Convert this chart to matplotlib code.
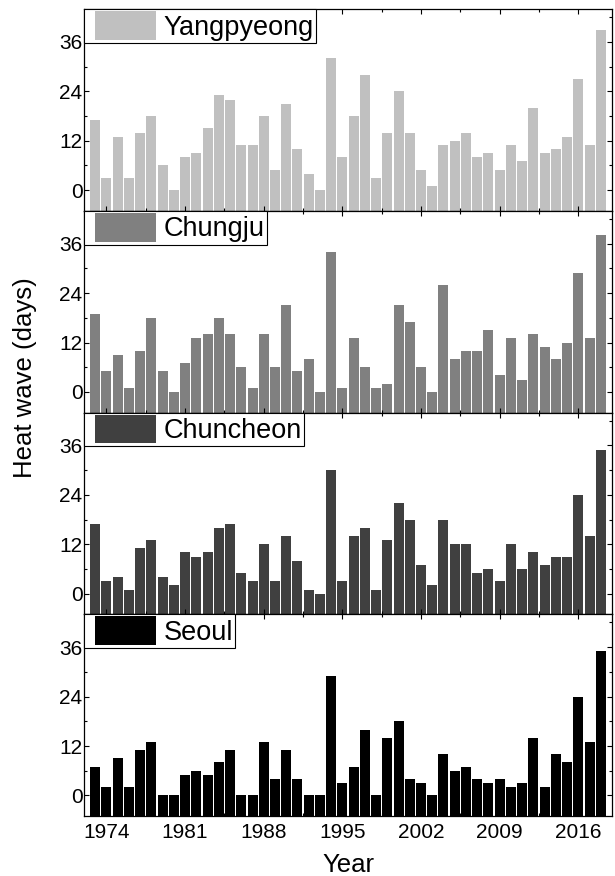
import numpy as np
from matplotlib import pyplot as plt
from matplotlib.container import BarContainer
from matplotlib.patches import Rectangle
from matplotlib.legend_handler import HandlerPatch, update_from_first_child
from matplotlib.ticker import MultipleLocator

years = np.arange(1973, 2019)

stations = ["Yangpyeong", "Chungju", "Chuncheon", "Seoul"]

yangpyeong = [17, 3, 13, 3, 14, 18, 6, 0, 8, 9,
              15, 23, 22, 11, 11, 18, 5, 21, 10, 4,
              0, 32, 8, 18, 28, 3, 14, 24, 14, 5,
              1, 11, 12, 14, 8, 9, 5, 11, 7, 20,
              9, 10, 13, 27, 11, 39]
chungju = [19, 5, 9, 1, 10, 18, 5, 0, 7, 13,
           14, 18, 14, 6, 1, 14, 6, 21, 5, 8,
           0, 34, 1, 13, 6, 1, 2, 21, 17, 6,
           0, 26, 8, 10, 10, 15, 4, 13, 3, 14,
           11, 8, 12, 29, 13, 38]
chuncheon = [17, 3, 4, 1, 11, 13, 4, 2, 10, 9,
             10, 16, 17, 5, 3, 12, 3, 14, 8, 1,
             0, 30, 3, 14, 16, 1, 13, 22, 18, 7,
             2, 18, 12, 12, 5, 6, 3, 12, 6, 10,
             7, 9, 9, 24, 14, 35]
seoul = [7, 2, 9, 2, 11, 13, 0, 0, 5, 6,
         5, 8, 11, 0, 0, 13, 4, 11, 4, 0,
         0, 29, 3, 7, 16, 0, 14, 18, 4, 3,
         0, 10, 6, 7, 4, 3, 4, 2, 3, 14,
         2, 10, 8, 24, 13, 35]

series = [yangpyeong, chungju, chuncheon, seoul]
colors = ["#c0c0c0", "#808080", "#404040", "#000000"]

Y_MIN, Y_MAX = -5, 44

plt.rcParams["font.family"] = ["Liberation Sans", "DejaVu Sans"]


def inset_patch(legend, orig_handle, xdescent, ydescent, width, height, fontsize):
  # leave a small gap between the frame and the colour swatch
  gap = 6.5
  return Rectangle((-xdescent + gap, -ydescent), width - gap, height)


bar_handler = HandlerPatch(patch_func=inset_patch,
                           update_func=update_from_first_child)

fig, axes = plt.subplots(4, 1, sharex=True, figsize=(6.15, 8.76), dpi=100)
fig.subplots_adjust(left=0.1366, right=0.9951, top=0.9897, bottom=0.0685,
                    hspace=0)

for ax, name, vals, col in zip(axes, stations, series, colors):
  vals = np.asarray(vals)
  ax.bar(years, vals - Y_MIN, bottom=Y_MIN, width=0.89, color=col,
         linewidth=0, label=name)
  ax.set_ylim(Y_MIN, Y_MAX)
  ax.set_xlim(1972, 2019)
  ax.yaxis.set_major_locator(MultipleLocator(12))
  ax.yaxis.set_minor_locator(MultipleLocator(6))
  ax.xaxis.set_major_locator(MultipleLocator(7))
  ax.xaxis.set_minor_locator(MultipleLocator(3.5))
  ax.tick_params(which="both", direction="in", top=True, right=True,
                 width=0.8, labelsize=15)
  ax.tick_params(which="major", length=3.5)
  ax.tick_params(which="minor", length=2)
  ax.tick_params(axis="y", pad=1)
  ax.tick_params(axis="x", pad=5)
  for sp in ax.spines.values():
    sp.set_linewidth(0.9)

  leg = ax.legend(loc="upper left", borderaxespad=0, borderpad=0.08,
                  handlelength=2.56, handleheight=1.26, handletextpad=0.3,
                  fontsize=19.5, fancybox=False, framealpha=1,
                  handler_map={BarContainer: bar_handler})
  leg.get_frame().set_edgecolor("black")
  leg.get_frame().set_linewidth(0.8)

fig.text(0.04, 1 - 378 / 876, "Heat wave (days)", rotation=90,
         ha="center", va="center", fontsize=18.5)
fig.text(348 / 615, 1 - 872 / 876, "Year", ha="center", va="baseline",
         fontsize=18.5)

plt.savefig("out.png", dpi=100)
